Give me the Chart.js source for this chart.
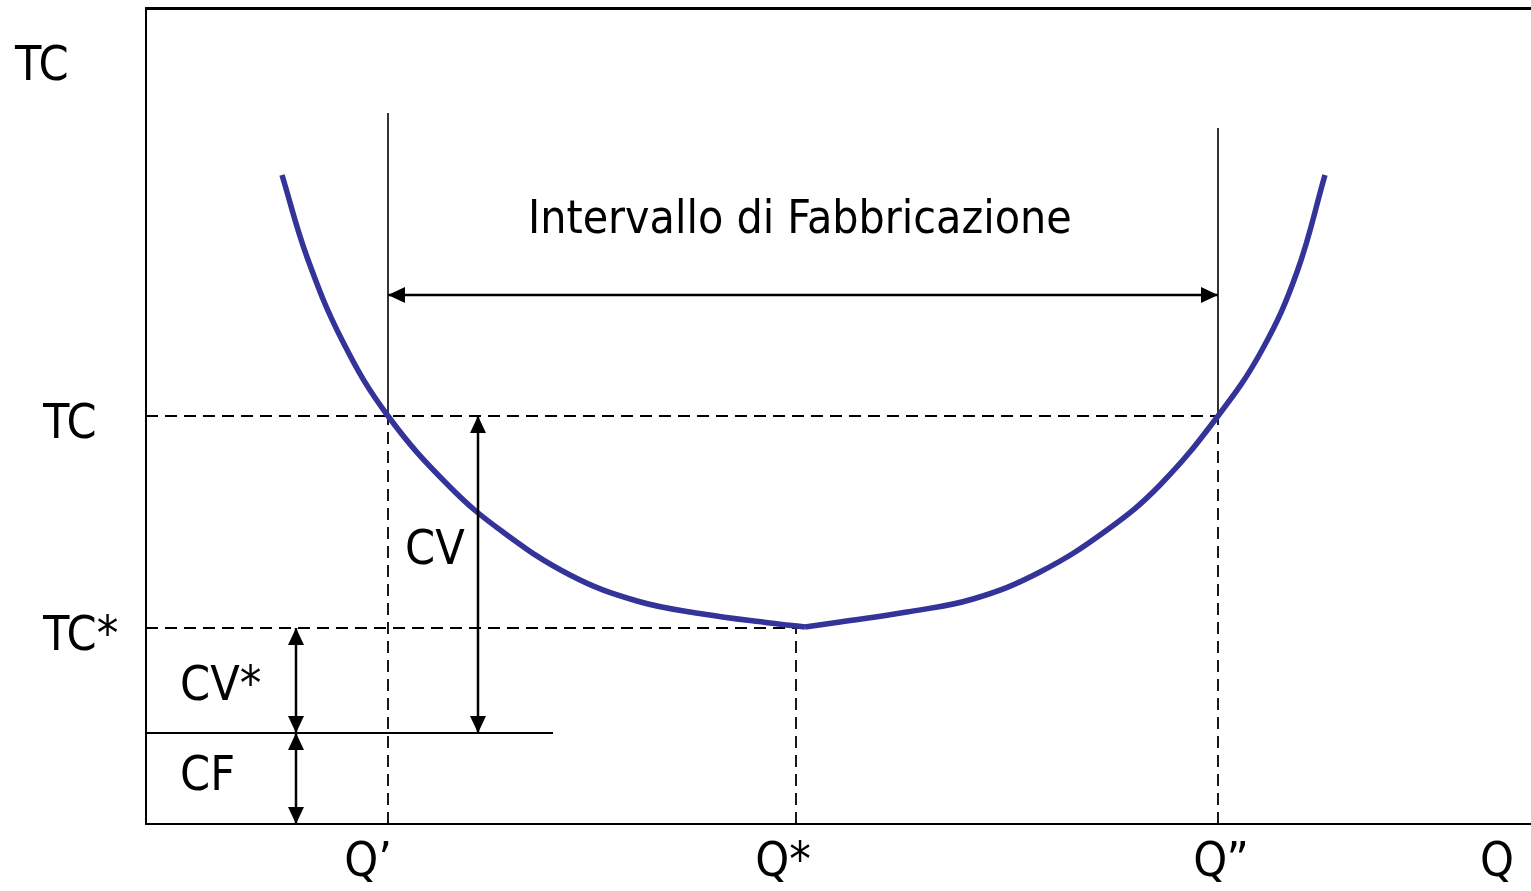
<!DOCTYPE html>
<html>
<head>
<meta charset="utf-8">
<script src="https://cdn.jsdelivr.net/npm/chart.js@4"></script>
<style>
  html, body { margin: 0; padding: 0; background: #fff; overflow: hidden; }
  #wrap { width: 1531px; height: 891px; position: relative; }
</style>
</head>
<body>
<div id="wrap"><canvas id="chartCanvas"></canvas></div>
<script>
// quantities and cost levels (axis units)
const qPrime = 242;
const qStar = 650;
const qSecond = 1072;
const tcLevel = 408;
const tcStarLevel = 196;
const cfLevel = 91;

// total cost curve, left and right of the minimum
const leftQ  = [136, 161, 197, 242, 304, 357, 424, 491, 557, 624, 659];
const leftTC = [649, 567, 482, 408, 337, 292, 249, 223, 210, 201, 197];
const rightQ  = [659, 694, 761, 827, 894, 961, 1014, 1072, 1116, 1151, 1179];
const rightTC = [197, 202, 212, 225, 252, 294, 339, 408, 474, 552, 649];

// tick labels
const xTickValues = [222, 637, 1075, 1351];
const xTickLabels = ['Q’', 'Q*', 'Q”', 'Q'];
const yTickValues = [398, 186];
const yTickLabels = ['TC', 'TC*'];

const FONT = "'DejaVu Sans Condensed', 'DejaVu Sans', sans-serif";
const curveColor = '#333399';

const pts = (xs, ys) => xs.map((x, i) => ({ x: x, y: ys[i] }));

function refLine(data, dashed, width) {
  return {
    data: data,
    borderColor: '#000',
    borderWidth: width,
    borderDash: dashed ? [12, 7] : [],
    pointRadius: 0,
    fill: false,
    tension: 0,
  };
}

const datasets = [
  {
    data: pts(leftQ, leftTC),
    borderColor: curveColor, borderWidth: 5.5, pointRadius: 0,
    tension: 0.4, fill: false,
  },
  {
    data: pts(rightQ, rightTC),
    borderColor: curveColor, borderWidth: 5.5, pointRadius: 0,
    tension: 0.4, fill: false,
  },
  // production interval bounds
  refLine([{ x: qPrime, y: tcLevel }, { x: qPrime, y: 711 }], false, 1.6),
  refLine([{ x: qSecond, y: tcLevel }, { x: qSecond, y: 696 }], false, 1.6),
  refLine([{ x: qPrime, y: 0 }, { x: qPrime, y: tcLevel }], true, 1.8),
  refLine([{ x: qSecond, y: 0 }, { x: qSecond, y: tcLevel }], true, 1.8),
  // TC and TC* levels
  refLine([{ x: 0, y: tcLevel }, { x: qSecond, y: tcLevel }], true, 1.8),
  refLine([{ x: 0, y: tcStarLevel }, { x: 659, y: tcStarLevel }], true, 1.8),
  refLine([{ x: qStar, y: 0 }, { x: qStar, y: tcStarLevel }], true, 1.8),
  // fixed cost level
  refLine([{ x: 0, y: cfLevel }, { x: 407, y: cfLevel }], false, 2),
];

// arrows: [x1, y1, x2, y2] in axis units, heads on both ends
const arrows = [
  [qPrime, 529, qSecond, 529],
  [332, cfLevel, 332, tcLevel],
  [150, cfLevel, 150, tcStarLevel],
  [150, 0, 150, cfLevel],
];

// free labels: text, x, baseline y (axis units), size
const notes = [
  ['Intervallo di Fabbricazione', 382, 591, 46],
  ['CV', 259, 260, 48],
  ['CV*', 34, 124, 48],
  ['CF', 34, 34, 48],
  ['TC', -131, 744, 48],
];

function drawHead(ctx, tx, ty, fx, fy) {
  const ang = Math.atan2(ty - fy, tx - fx);
  const len = 17, half = 8;
  ctx.beginPath();
  ctx.moveTo(tx, ty);
  ctx.lineTo(tx - len * Math.cos(ang) + half * Math.sin(ang), ty - len * Math.sin(ang) - half * Math.cos(ang));
  ctx.lineTo(tx - len * Math.cos(ang) - half * Math.sin(ang), ty - len * Math.sin(ang) + half * Math.cos(ang));
  ctx.closePath();
  ctx.fill();
}

const annotations = {
  id: 'annotations',
  afterDatasetsDraw(chart) {
    const { ctx, scales: { x, y } } = chart;
    ctx.save();
    ctx.strokeStyle = '#000';
    ctx.fillStyle = '#000';
    ctx.lineWidth = 2.5;
    arrows.forEach(a => {
      const x1 = x.getPixelForValue(a[0]), y1 = y.getPixelForValue(a[1]);
      const x2 = x.getPixelForValue(a[2]), y2 = y.getPixelForValue(a[3]);
      ctx.beginPath();
      ctx.moveTo(x1, y1);
      ctx.lineTo(x2, y2);
      ctx.stroke();
      drawHead(ctx, x1, y1, x2, y2);
      drawHead(ctx, x2, y2, x1, y1);
    });
    ctx.textAlign = 'left';
    ctx.textBaseline = 'alphabetic';
    notes.forEach(n => {
      ctx.font = n[3] + 'px ' + FONT;
      ctx.fillText(n[0], x.getPixelForValue(n[1]), y.getPixelForValue(n[2]));
    });
    ctx.restore();
  }
};

const noPad = s => { s.paddingLeft = 0; s.paddingRight = 0; s.paddingTop = 0; s.paddingBottom = 0; };

const chartContainer = document.getElementById('chartCanvas');

const myChart = new Chart(chartContainer, {
  type: 'line',
  data: { datasets: datasets },
  options: {
    responsive: true,
    maintainAspectRatio: false,
    animation: false,
    layout: { padding: { left: 43, right: 0, top: 0, bottom: 0 } },
    plugins: { legend: { display: false }, tooltip: { enabled: false } },
    scales: {
      x: {
        type: 'linear', position: 'bottom', min: 0, max: 1385,
        grid: { display: false, drawTicks: false },
        border: { display: true, color: '#000', width: 2 },
        afterBuildTicks: s => { s.ticks = xTickValues.map(v => ({ value: v })); },
        afterFit: s => { s.height = 67; noPad(s); },
        ticks: {
          autoSkip: false, maxRotation: 0, color: '#000', padding: 11,
          font: { family: FONT, size: 48 },
          callback: v => xTickLabels[xTickValues.indexOf(v)],
        },
      },
      xTop: {
        type: 'linear', position: 'top', min: 0, max: 1,
        grid: { display: false, drawTicks: false },
        border: { display: true, color: '#000', width: 3 },
        ticks: { display: false },
        afterFit: s => { s.height = 8; noPad(s); },
      },
      y: {
        type: 'linear', position: 'left', min: 0, max: 816,
        grid: { display: false, drawTicks: false },
        border: { display: true, color: '#000', width: 2 },
        afterBuildTicks: s => { s.ticks = yTickValues.map(v => ({ value: v })); },
        afterFit: s => { s.width = 103; noPad(s); },
        ticks: {
          autoSkip: false, color: '#000', crossAlign: 'far',
          font: { family: FONT, size: 48 },
          callback: v => yTickLabels[yTickValues.indexOf(v)],
        },
      },
    },
  },
  plugins: [annotations],
});
</script>
</body>
</html>
